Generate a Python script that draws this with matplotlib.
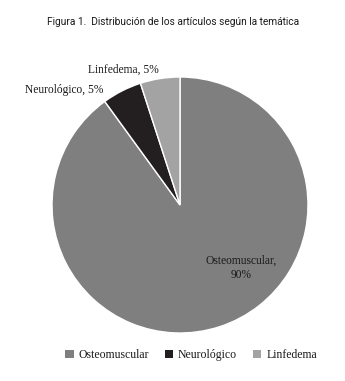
import matplotlib.pyplot as plt

categorias = ["Osteomuscular", "Neurológico", "Linfedema"]
porcentajes = [90, 5, 5]
colores = ["#7f7f7f", "#231f20", "#a3a3a3"]
etiquetas = ["Osteomuscular,\n90%", "Neurológico, 5%", "Linfedema, 5%"]

W, H = 345, 381
fig = plt.figure(figsize=(W / 100, H / 100), dpi=100)
fig.patch.set_facecolor("white")

# pie axes: centre ~ (180, 205) px, radius ~128 px
ax = fig.add_axes([52 / W, (H - 333) / H, 256 / W, 256 / H])
wedges, _ = ax.pie(porcentajes, colors=colores, startangle=90, counterclock=False,
                   wedgeprops=dict(edgecolor="white", linewidth=1.0))
ax.set_xlim(-1, 1)
ax.set_ylim(-1, 1)
ax.set_aspect("auto")
ax.axis("off")

serif = "Liberation Serif"
fs = 8.3
fig.text(241 / W, 1 - 268 / H, etiquetas[0], ha="center", va="center",
         fontsize=fs, family=serif, color="#1a1a1a", linespacing=1.3)
fig.text(25 / W, 1 - 90 / H, etiquetas[1], ha="left", va="center",
         fontsize=fs, family=serif, color="#1a1a1a")
fig.text(88 / W, 1 - 70 / H, etiquetas[2], ha="left", va="center",
         fontsize=fs, family=serif, color="#1a1a1a")

fig.text(173.5 / W, 1 - 22 / H, "Figura 1.  Distribución de los artículos según la temática",
         ha="center", va="center", fontsize=7.3, family=["Roboto", "DejaVu Sans"],
         color="#1a1a1a")

leg = fig.legend(wedges, categorias, loc="center", bbox_to_anchor=(191 / W, 1 - 355 / H),
                 ncol=3, frameon=False, handlelength=0.75, handleheight=0.75,
                 handletextpad=0.4, columnspacing=1.3,
                 prop={"family": serif, "size": 8.5})
for t in leg.get_texts():
    t.set_color("#1a1a1a")
for h in leg.legend_handles:
    h.set_edgecolor("none")

fig.savefig("out.png", dpi=100, facecolor="white")
